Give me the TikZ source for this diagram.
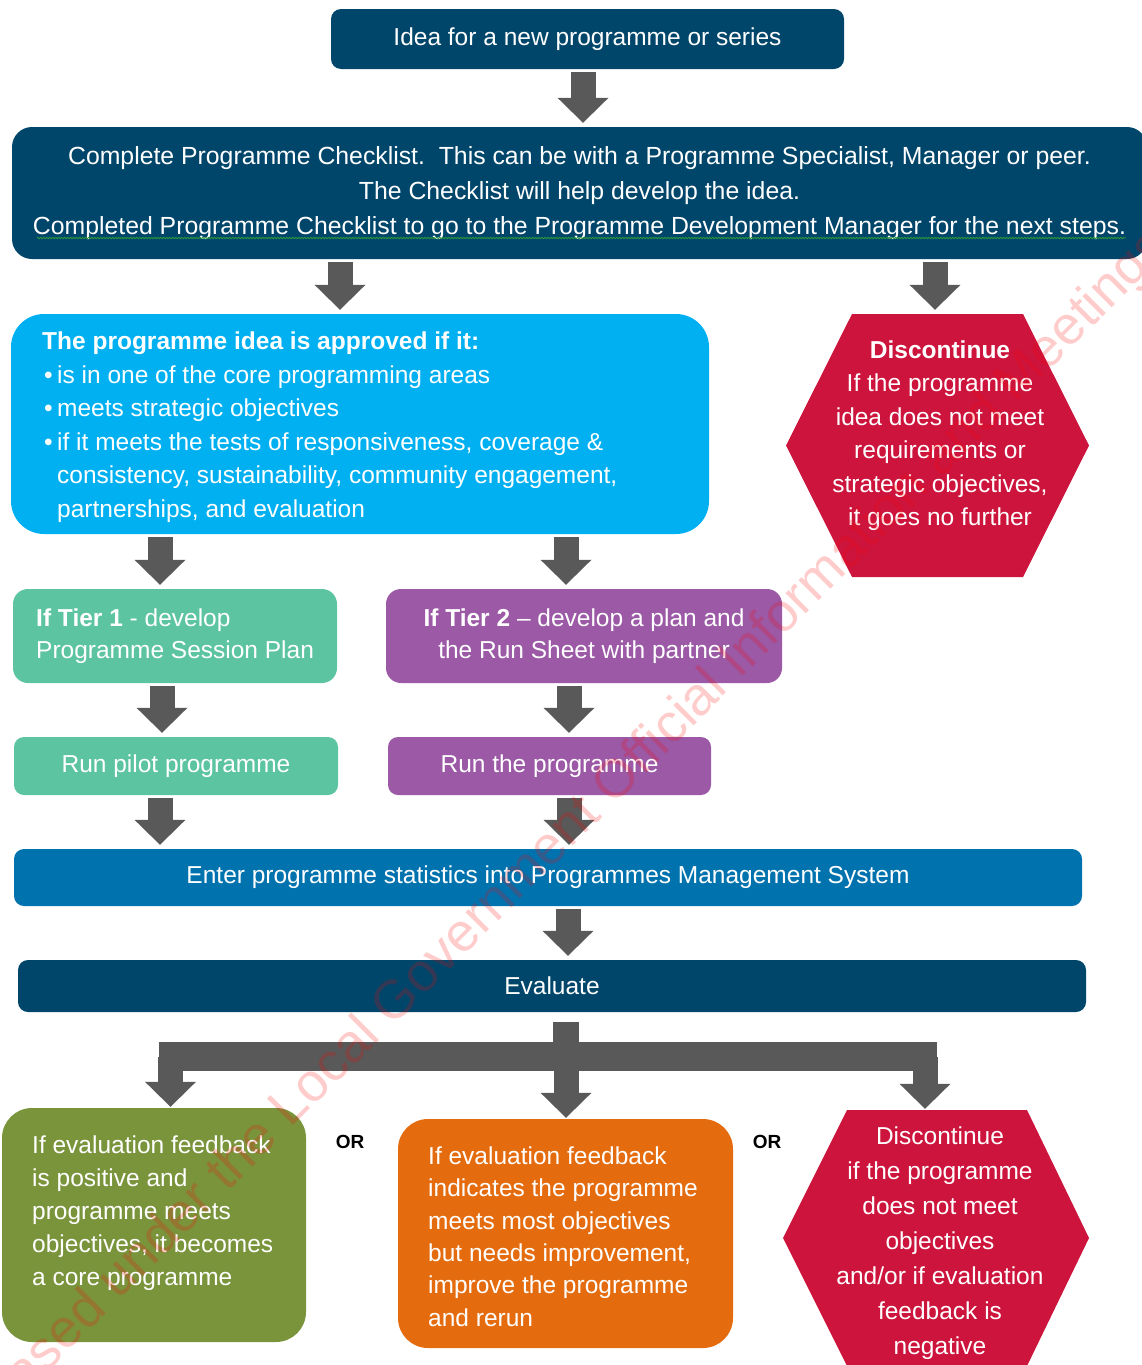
\documentclass[tikz,border=0pt]{standalone}
\usepackage{fontspec}
\setmainfont{Liberation Sans}
\usetikzlibrary{arrows.meta,calc,decorations.pathmorphing}
\definecolor{navy}{RGB}{0,70,106}
\definecolor{skyb}{RGB}{0,176,240}
\definecolor{crim}{RGB}{204,20,60}
\definecolor{tealx}{RGB}{92,196,160}
\definecolor{purp}{RGB}{155,89,166}
\definecolor{midb}{RGB}{0,114,174}
\definecolor{olivex}{RGB}{122,148,60}
\definecolor{orng}{RGB}{228,108,14}
\definecolor{agrey}{RGB}{89,89,89}
\definecolor{squig}{RGB}{40,150,60}
\newcommand{\fs}[1]{\fontsize{24.5}{#1}\selectfont}
\begin{document}
\begin{tikzpicture}[x=1pt,y=-1pt,
  box/.style={inner sep=0pt, text=white, align=center, rounded corners=#1},
  box/.default=10pt,
  wtxt/.style={inner sep=0pt, text=white, align=left},
  barrow/.style={draw=agrey, line width=25pt, shorten <=3pt, shorten >=4pt,
    -{Triangle[length=25pt,width=51pt,line width=0pt]}},
  ortxt/.style={inner sep=0pt, font=\fontsize{19}{19}\selectfont\bfseries, text=black},
]
\useasboundingbox (0,0) rectangle (1142,1365);
\clip (0,0) rectangle (1142,1365);

% top boxes
\node[box, fill=navy, minimum width=513pt, minimum height=60pt, font=\fs{30}] (idea) at (587.5,39) {Idea for a new programme or series};
\node[box=20pt, fill=navy, minimum width=1135pt, minimum height=132pt, font=\fontsize{24.8}{35}\selectfont] (check) at (579.5,193)
  {Complete Programme Checklist.\ \ This can be with a Programme Specialist, Manager or peer.\\
   The Checklist will help develop the idea.\\
   Completed Programme Checklist to go to the Programme Development Manager for the next steps.};
\draw[squig, line width=0.8pt, decorate, decoration={snake, amplitude=0.7pt, segment length=3pt}]
  (check.west |- 0,238) ++(25,0) -- ++(1089,0);

% approval box
\node[box=33pt, fill=skyb, minimum width=698pt, minimum height=220pt] (approve) at (360,424) {};
\node[wtxt, anchor=west, font=\fs{33.5}] (approvet) at (42,427)
  {\textbf{The programme idea is approved if it:}\\
   \makebox[15pt][l]{\hspace{2pt}\textbullet}is in one of the core programming areas\\
   \makebox[15pt][l]{\hspace{2pt}\textbullet}meets strategic objectives\\
   \makebox[15pt][l]{\hspace{2pt}\textbullet}if it meets the tests of responsiveness, coverage \&\\
   \hspace*{15pt}consistency, sustainability, community engagement,\\
   \hspace*{15pt}partnerships, and evaluation};

% discontinue hexagon 1
\fill[crim] (786,445.5) -- (852,314) -- (1023,314) -- (1089,445.5) -- (1023,577) -- (852,577) -- cycle;
\node[inner sep=0pt, minimum width=303pt, minimum height=263pt] (disc1) at (937.5,445.5) {};
\node[box, font=\fs{33.5}] (disc1t) at (940,435.5)
  {\textbf{Discontinue}\\ If the programme\\ idea does not meet\\ requirements or\\ strategic objectives,\\ it goes no further};

% tiers
\node[box=15pt, fill=tealx, minimum width=324pt, minimum height=94pt] (tier1) at (175,636) {};
\node[wtxt, anchor=west, font=\fs{32.5}] (tier1t) at (36,636) {\textbf{If Tier 1} - develop\\ Programme Session Plan};
\node[box=15pt, fill=purp, minimum width=396pt, minimum height=94pt, font=\fs{32.5}] (tier2) at (584,636)
  {\textbf{If Tier 2} – develop a plan and\\ the Run Sheet with partner};

\node[box, fill=tealx, minimum width=324pt, minimum height=58pt, font=\fs{30}] (pilot) at (176,766) {Run pilot programme};
\node[box, fill=purp, minimum width=323pt, minimum height=58pt, font=\fs{30}] (runp) at (549.5,766) {Run the programme};

\node[box, fill=midb, minimum width=1068pt, minimum height=57pt, font=\fs{30}] (enter) at (548,877.5) {Enter programme statistics into Programmes Management System};
\node[box, fill=navy, minimum width=1068pt, minimum height=52pt, font=\fs{30}] (eval) at (552,986) {Evaluate};

% outcome boxes
\node[box=30pt, fill=olivex, minimum width=304pt, minimum height=234pt] (pos) at (154,1225) {};
\node[wtxt, anchor=north west, font=\fs{33}] (post) at (32,1136)
  {If evaluation feedback\\ is positive and\\ programme meets\\ objectives, it becomes\\ a core programme};
\node[box=30pt, fill=orng, minimum width=335pt, minimum height=229pt] (improve) at (565.5,1233.5) {};
\node[wtxt, anchor=west, font=\fs{32.3}] (improvet) at (428,1236.5)
  {If evaluation feedback\\ indicates the programme\\ meets most objectives\\ but needs improvement,\\ improve the programme\\ and rerun};
\fill[crim] (783,1238) -- (847,1110) -- (1027,1110) -- (1089,1238) -- (1027,1366) -- (847,1366) -- cycle;
\node[inner sep=0pt, minimum width=306pt, minimum height=256pt] (disc2) at (936,1238) {};
\node[box, font=\fs{35}] (disc2t) at (940,1243.5)
  {Discontinue\\ if the programme\\ does not meet\\ objectives\\ and/or if evaluation\\ feedback is\\ negative};

\node[ortxt] (or1) at (350,1142) {OR};
\node[ortxt] (or2) at (767,1142) {OR};

% arrows
\draw[barrow] (idea.south -| 583,0) -- (check.north -| 583,0);
\draw[barrow] (check.south -| 340,0) -- (approve.north -| 340,0);
\draw[barrow] (check.south -| 935,0) -- (disc1.north -| 935,0);
\draw[barrow] (approve.south -| 160,0) -- (tier1.north -| 160,0);
\draw[barrow] (approve.south -| 566,0) -- (tier2.north -| 566,0);
\draw[barrow] (tier1.south -| 162,0) -- (pilot.north -| 162,0);
\draw[barrow] (tier2.south -| 569,0) -- (runp.north -| 569,0);
\draw[barrow] (pilot.south -| 160,0) -- (enter.north -| 160,0);
\draw[barrow] (runp.south -| 569,0) -- (enter.north -| 569,0);
\draw[barrow] (enter.south -| 568,0) -- (eval.north -| 568,0);

% branching connector
\coordinate (bl) at (159,1056.5);
\coordinate (br) at (937,1056.5);
\draw[agrey, line width=26pt, shorten <=10pt] (eval.south -| 566,0) -- (566,1071);
\draw[agrey, line width=29pt] (bl) -- (br);
\draw[barrow, shorten <=0pt, shorten >=1pt] (bl -| 170.5,0) -- (pos.north -| 170.5,0);
\draw[barrow, shorten <=0pt, shorten >=1pt] (bl -| 566,0) -- (improve.north -| 566,0);
\draw[barrow, shorten <=0pt, shorten >=1pt] (br -| 925,0) -- (disc2.north -| 925,0);

% watermark
\node[rotate=45, text=red, opacity=0.2, text opacity=0.2, inner sep=0pt, font=\fontsize{54}{54}\selectfont] (wm) at (582,818)
  {Released under the Local Government Official Information and Meetings Act};
\end{tikzpicture}
\end{document}
